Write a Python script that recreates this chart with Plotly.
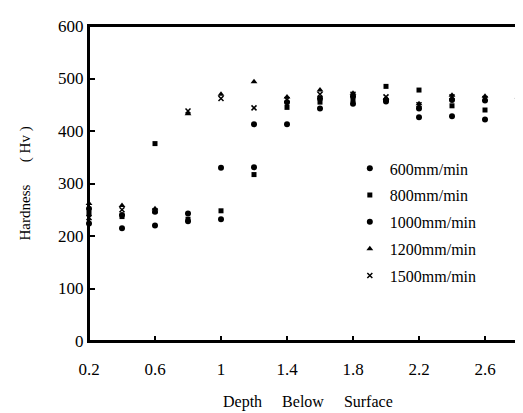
import plotly.graph_objects as go

depth = [0.2, 0.4, 0.6, 0.8, 1.0, 1.2, 1.4, 1.6, 1.8, 2.0, 2.2, 2.4, 2.6, 2.8]

hv_600 = [224, 215, 220, 228, 232, 331, 413, 443, 452, 456, 426, 428, 422, 445]
hv_800 = [243, 237, 376, 232, 248, 317, 445, 455, 460, 485, 478, 448, 440, 452]
hv_1000 = [252, 240, 246, 243, 330, 413, 455, 462, 466, 459, 443, 459, 458, 458]
hv_1200 = [262, 258, 252, 433, 470, 494, 465, 478, 472, 462, 452, 468, 466, 465]
hv_1500 = [235, 250, 248, 438, 462, 444, 460, 470, 470, 465, 450, 465, 462, 462]

series_names = ["600mm/min", "800mm/min", "1000mm/min", "1200mm/min", "1500mm/min"]
series_values = [hv_600, hv_800, hv_1000, hv_1200, hv_1500]
series_symbols = ["circle", "square", "circle", "triangle-up", "x-thin-open"]
series_sizes = [6, 5, 6, 6, 5]
series_xaxes = ["x", "x", "x", "x", "x2"]

x_ticks = [0.2, 0.6, 1.0, 1.4, 1.8, 2.2, 2.6]
x_ticklabels = ["0.2", "0.6", "1", "1.4", "1.8", "2.2", "2.6"]
y_ticks = [0, 100, 200, 300, 400, 500, 600]

FONT = "Liberation Serif, Times New Roman, serif"

fig = go.Figure()
for i, (name, vals, sym, sz, xa) in enumerate(zip(series_names, series_values, series_symbols,
                                                   series_sizes, series_xaxes)):
    fig.add_trace(go.Scatter(
        x=depth, y=vals, mode="markers", name=name, xaxis=xa, yaxis="y",
        legendgroup=f"g{i}",
        marker=dict(symbol=sym, size=sz, color="black",
                    line=dict(color="black", width=1.5 if sym.startswith("x") else 0)),
        cliponaxis=False,
    ))

fig.update_layout(
    width=523, height=413,
    margin=dict(l=81, r=13, t=9, b=80),
    paper_bgcolor="white", plot_bgcolor="white",
    font=dict(family=FONT, color="black", size=17),
    showlegend=True,
    legend=dict(x=0.608, y=0.602, xanchor="left", yanchor="top",
                font=dict(family=FONT, size=16, color="black"),
                bgcolor="rgba(0,0,0,0)", borderwidth=0,
                tracegroupgap=3, itemsizing="trace"),
    # labels axis: invisible outside ticks push the labels down
    xaxis=dict(range=[0.2, 2.8], tickmode="array", tickvals=x_ticks, ticktext=x_ticklabels,
               showgrid=False, zeroline=False, showline=True, linecolor="#000000", linewidth=2,
               mirror=True, ticks="outside", ticklen=12, tickwidth=1, tickcolor="rgba(255,255,255,0)",
               tickfont=dict(size=17)),
    # tick-mark axis: visible inside ticks, no labels
    xaxis2=dict(matches="x", overlaying="x", anchor="y", side="bottom",
                tickmode="array", tickvals=x_ticks, showticklabels=False,
                showgrid=False, zeroline=False, showline=True, linecolor="#000000", linewidth=2,
                ticks="inside", ticklen=5, tickwidth=2, tickcolor="#000000"),
    yaxis=dict(range=[0, 600], tickmode="array", tickvals=y_ticks, ticksuffix="\u00a0\u00a0",
               showgrid=False, zeroline=False, showline=True, linecolor="#000000", linewidth=2,
               mirror=True, ticks="inside", ticklen=6, tickwidth=2, tickcolor="#000000",
               tickfont=dict(size=17)),
    shapes=[dict(type="rect", xref="paper", yref="paper", x0=0, x1=1, y0=0, y1=1,
                 line=dict(color="#000000", width=2), fillcolor="rgba(0,0,0,0)", layer="above")],
    annotations=[
        dict(text="Depth\u00a0\u00a0\u00a0\u00a0\u00a0Below\u00a0\u00a0\u00a0\u00a0\u00a0Surface",
             xref="paper", yref="paper", x=0.51, y=0, yshift=-61, xanchor="center", yanchor="middle",
             showarrow=False, font=dict(family=FONT, size=16)),
        dict(text="Hardness\u00a0\u00a0\u00a0\u00a0\u00a0\u00a0(\u00a0Hv\u00a0)",
             xref="paper", yref="paper", x=0, xshift=-64, y=0.5, xanchor="center", yanchor="middle",
             textangle=-90, showarrow=False, font=dict(family=FONT, size=15)),
    ],
)

fig.write_html("out.html")
